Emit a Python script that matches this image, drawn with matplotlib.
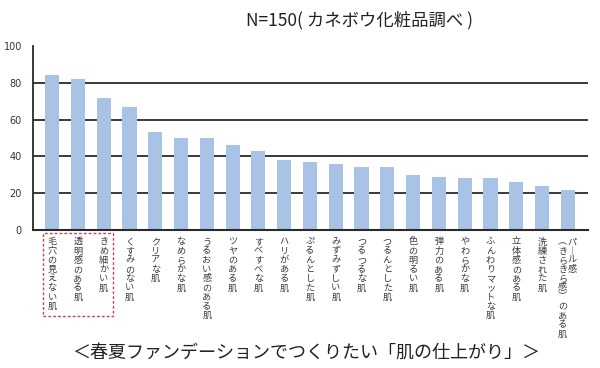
import matplotlib
matplotlib.use("Agg")
import matplotlib.pyplot as plt
from matplotlib.patches import Rectangle

plt.rcParams['font.family'] = ['Noto Sans CJK JP', 'DejaVu Sans']

# 肌の仕上がり (N=150)
labels = ['毛穴の見えない肌', '透明感のある肌', 'きめ細かい肌', 'くすみのない肌', 'クリアな肌',
          'なめらかな肌', 'うるおい感のある肌', 'ツヤのある肌', 'すべすべな肌', 'ハリがある肌',
          'ぷるんとした肌', 'みずみずしい肌', 'つるつるな肌', 'つるんとした肌', '色の明るい肌',
          '弾力のある肌', 'やわらかな肌', 'ふんわりマットな肌', '立体感のある肌', '洗練された肌',
          'パール感\n（きらきら感）のある肌']
values = [84, 82, 72, 67, 53, 50, 50, 46, 43, 38, 37, 36, 34, 34, 30, 29, 28, 28, 26, 24, 22]
yticks = [0, 20, 40, 60, 80, 100]

title = 'N=150( カネボウ化粧品調べ )'
caption = '＜春夏ファンデーションでつくりたい「肌の仕上がり」＞'

# 縦書き用の置き換え
vert_map = {'ー': '｜', '（': '︵', '）': '︶'}


def tate(s):
    return '\n'.join(vert_map.get(c, c) for c in s)


fig = plt.figure(figsize=(6, 3.68), dpi=100)
ax = fig.add_axes([0.055, 0.375, 0.925, 0.5])

x = list(range(len(values)))
ax.bar(x, values, width=0.55, color='#a9c3e6', zorder=2)

ax.set_ylim(0, 100)
ax.set_xlim(-0.74, 20.78)
ax.set_yticks(yticks)
ax.set_yticklabels([str(v) for v in yticks], fontsize=7, color='#333333',
                   family='DejaVu Sans')
ax.tick_params(axis='y', length=0, pad=8)
ax.set_xticks([])
for v in [20, 40, 60, 80]:
    ax.axhline(v, color='#2a2a2a', linewidth=1.3, zorder=1)

for s in ['top', 'right']:
    ax.spines[s].set_visible(False)
ax.spines['left'].set_color('#2a2a2a')
ax.spines['left'].set_linewidth(1.3)
ax.spines['bottom'].set_color('#2a2a2a')
ax.spines['bottom'].set_linewidth(1.5)

# 縦書きラベル
trans = ax.get_xaxis_transform()
fs = 6.6
for i, lab in enumerate(labels):
    cols = lab.split('\n')
    if len(cols) == 1:
        ax.text(i, -0.04, tate(lab), transform=trans, ha='center', va='top',
                fontsize=fs, linespacing=1.03, color='#3a3a3a')
    else:
        # 右の列から読む
        offs = [0.17, -0.2]
        for c, o in zip(cols, offs):
            ax.text(i + o, -0.04, tate(c), transform=trans, ha='center', va='top',
                    fontsize=fs, linespacing=1.03, color='#3a3a3a')

# 上位3項目の囲み
ax.add_patch(Rectangle((-0.35, -0.465), 2.71, 0.45, transform=trans, fill=False,
                       edgecolor='#d0405e', linestyle=(0, (2, 1.5)), linewidth=1.0,
                       clip_on=False))

fig.text(0.6, 0.945, title, ha='center', va='center', fontsize=12.5, color='#222222')
fig.text(0.51, 0.043, caption, ha='center', va='center', fontsize=13, color='#222222')

fig.savefig('out.png', dpi=100)
